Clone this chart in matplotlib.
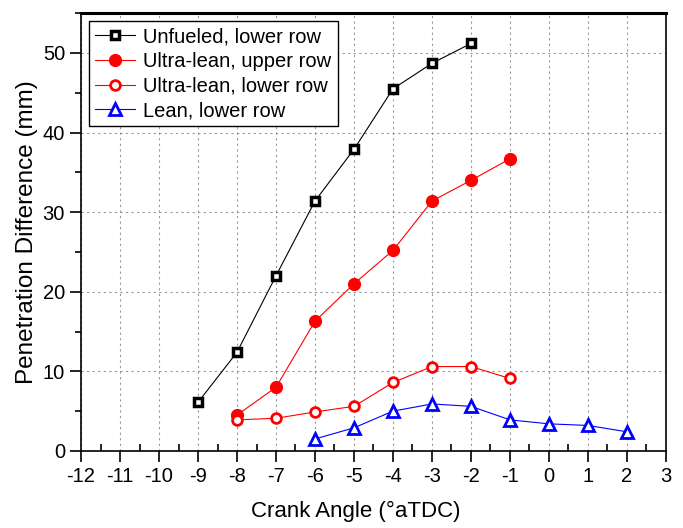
import matplotlib
matplotlib.use("Agg")
import matplotlib.pyplot as plt
from matplotlib.ticker import MultipleLocator

plt.rcParams['font.family'] = ['Liberation Sans', 'DejaVu Sans']
plt.rcParams['axes.unicode_minus'] = False

# data
x_unfueled = [-9, -8, -7, -6, -5, -4, -3, -2]
y_unfueled = [6.1, 12.4, 22.0, 31.4, 37.9, 45.5, 48.7, 51.2]

x_ul_upper = [-8, -7, -6, -5, -4, -3, -2, -1]
y_ul_upper = [4.5, 8.0, 16.3, 21.0, 25.2, 31.4, 34.0, 36.7]

x_ul_lower = [-8, -7, -6, -5, -4, -3, -2, -1]
y_ul_lower = [3.9, 4.1, 4.9, 5.6, 8.6, 10.6, 10.6, 9.1]

x_lean = [-6, -5, -4, -3, -2, -1, 0, 1, 2]
y_lean = [1.5, 2.9, 5.0, 5.9, 5.6, 3.9, 3.4, 3.2, 2.4]

fig = plt.figure(figsize=(6.83, 5.28), dpi=100)
ax = fig.add_axes([0.1186, 0.146, 0.8565, 0.829])

ax.plot(x_unfueled, y_unfueled, color='black', lw=0.8, marker='s', ms=6,
        mfc='white', mec='black', mew=2.5, label='Unfueled, lower row')
ax.plot(x_ul_upper, y_ul_upper, color='red', lw=0.8, marker='o', ms=8.5,
        mfc='red', mec='red', label='Ultra-lean, upper row')
ax.plot(x_ul_lower, y_ul_lower, color='red', lw=0.8, marker='o', ms=7,
        mfc='white', mec='red', mew=2, label='Ultra-lean, lower row')
ax.plot(x_lean, y_lean, color='blue', lw=0.8, marker='^', ms=8,
        mfc='white', mec='blue', mew=2, label='Lean, lower row')

ax.set_xlim(-12, 3)
ax.set_ylim(0, 55)
ax.xaxis.set_major_locator(MultipleLocator(1))
ax.xaxis.set_minor_locator(MultipleLocator(0.5))
ax.yaxis.set_major_locator(MultipleLocator(10))
ax.yaxis.set_minor_locator(MultipleLocator(5))

ax.grid(True, which='major', linestyle=(0, (2, 3)), color='gray', lw=0.8, alpha=0.8)
ax.tick_params(axis='both', which='major', labelsize=14.5, length=8, width=1.2, direction='out')
ax.tick_params(axis='y', which='minor', length=4, width=1.2, direction='out')
ax.tick_params(axis='x', which='minor', length=5, width=1.2, direction='in')

for side in ['left', 'bottom', 'right']:
    ax.spines[side].set_linewidth(1.2)
ax.spines['top'].set_linewidth(2.2)

ax.set_xlabel('Crank Angle (°aTDC)', fontsize=16)
ax.xaxis.set_label_coords(0.47, -0.115)
ax.set_ylabel('Penetration Difference (mm)', fontsize=17.5, labelpad=3)

leg = ax.legend(loc='upper left', fontsize=14.5, frameon=True, fancybox=False,
                edgecolor='black', framealpha=1, borderpad=0.3, labelspacing=0.28,
                handlelength=2.0, handletextpad=0.4, borderaxespad=0.4)
leg.get_frame().set_linewidth(1.0)

fig.savefig('out.png', dpi=100)
